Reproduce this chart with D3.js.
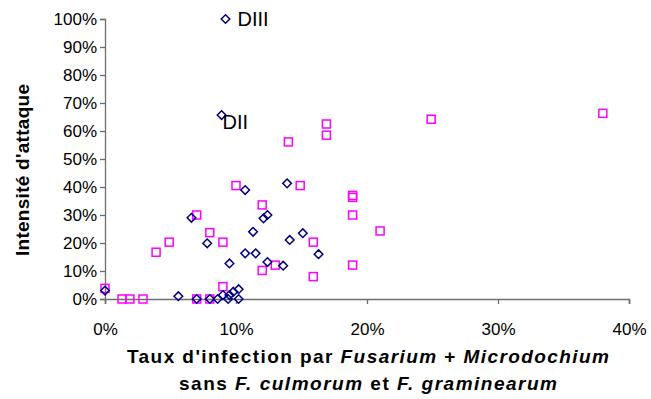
<!DOCTYPE html>
<html>
<head>
<meta charset="utf-8">
<script src="https://cdn.jsdelivr.net/npm/d3@7"></script>
<style>
  body { margin: 0; background: #fff; }
  svg { display: block; font-family: "Liberation Sans", Arial, sans-serif; }
</style>
</head>
<body>
<svg id="chart" width="651" height="399"></svg>
<script>
// Series 1: diamonds (navy) — [x infection rate %, y attack intensity %]
const diamondX = [0.0, 5.6, 7.0, 8.0, 8.6, 9.4, 10.2, 9.0, 9.5, 9.8, 10.2, 6.6, 7.8, 9.5, 10.7, 10.7, 11.5, 11.3, 12.1, 12.4, 12.4, 13.6, 13.9, 14.1, 15.1, 16.3, 8.9, 9.2];
const diamondY = [3.0, 1.0, 0.0, 0.0, 0.0, 0.0, 0.0, 1.4, 1.4, 2.6, 3.5, 29.0, 19.9, 12.7, 38.9, 16.3, 16.3, 24.0, 28.8, 30.0, 13.2, 11.9, 41.3, 21.1, 23.5, 16.0, 65.7, 100.0];
// Series 2: squares (magenta)
const squareX = [0.0, 1.3, 1.9, 2.9, 7.0, 8.0, 9.0, 3.9, 4.9, 7.0, 8.0, 9.0, 10.0, 12.0, 12.0, 13.0, 14.0, 14.9, 15.9, 15.9, 16.9, 16.9, 18.9, 18.9, 18.9, 18.9, 21.0, 24.9, 38.0];
const squareY = [3.8, 0.0, 0.0, 0.0, 0.0, 0.0, 4.4, 16.7, 20.3, 30.0, 23.7, 20.3, 40.5, 33.6, 10.2, 12.1, 56.1, 40.5, 20.3, 8.0, 62.5, 58.5, 37.0, 36.3, 30.0, 12.1, 24.3, 64.2, 66.3];
// Point labels
const labelNames = ["DII", "DIII"];
const labelX = [8.9, 9.2];
const labelY = [65.7, 100.0];
// Ticks
const xTicks = [0, 10, 20, 30, 40];
const yTicks = [0, 10, 20, 30, 40, 50, 60, 70, 80, 90, 100];

const svg = d3.select("#chart");
const x = d3.scaleLinear().domain([0, 40]).range([105, 629]);
const y = d3.scaleLinear().domain([0, 100]).range([299, 19]);
const fmt = d => d + "%";
const axisColor = "#6e6e6e";

// Y axis
const gy = svg.append("g").attr("transform", `translate(${x(0)},0)`)
  .call(d3.axisLeft(y).tickValues(yTicks).tickFormat(fmt).tickSize(5).tickPadding(3));
gy.select(".domain").attr("stroke", axisColor).attr("stroke-width", 1.3);
gy.selectAll(".tick line").attr("stroke", axisColor).attr("stroke-width", 1.3);
gy.selectAll(".tick text").attr("font-size", 17).attr("fill", "#000")
  .attr("font-family", "Liberation Sans, Arial, sans-serif");

// X axis
const gx = svg.append("g").attr("transform", `translate(0,${y(0)})`)
  .call(d3.axisBottom(x).tickValues(xTicks).tickFormat(fmt).tickSize(5).tickPadding(19));
gx.select(".domain").attr("stroke", axisColor).attr("stroke-width", 1.6);
gx.selectAll(".tick line").attr("stroke", axisColor).attr("stroke-width", 1.3);
gx.selectAll(".tick text").attr("font-size", 17).attr("fill", "#000")
  .attr("font-family", "Liberation Sans, Arial, sans-serif");

// Squares
const squares = squareX.map((v, i) => ({x: v, y: squareY[i]}));
const s = 8;
svg.append("g").selectAll("rect").data(squares).join("rect")
  .attr("x", d => x(d.x) - s / 2).attr("y", d => y(d.y) - s / 2)
  .attr("width", s).attr("height", s)
  .attr("fill", "none").attr("stroke", "#ff00ff").attr("stroke-width", 1.5);

// Diamonds
const diamonds = diamondX.map((v, i) => ({x: v, y: diamondY[i]}));
const r = 4.3;
svg.append("g").selectAll("path").data(diamonds).join("path")
  .attr("d", d => {
    const cx = x(d.x), cy = y(d.y);
    return `M${cx},${cy - r}L${cx + r},${cy}L${cx},${cy + r}L${cx - r},${cy}Z`;
  })
  .attr("fill", "none").attr("stroke", "#000080").attr("stroke-width", 1.5);

// Labels
svg.append("g").selectAll("text").data(labelNames).join("text")
  .attr("x", (d, i) => x(labelX[i]) + (i === 0 ? 1 : 12))
  .attr("y", (d, i) => y(labelY[i]) + (i === 0 ? 14 : 7))
  .attr("font-size", 20).attr("fill", "#000")
  .text(d => d);

// Y title
svg.append("text")
  .attr("transform", `translate(29,170) rotate(-90)`)
  .attr("text-anchor", "middle")
  .attr("font-size", 19).attr("font-weight", "bold")
  .attr("textLength", 172).attr("lengthAdjust", "spacing")
  .text("Intensité d'attaque");

// X title
const t1 = svg.append("text").attr("x", 368).attr("y", 363)
  .attr("text-anchor", "middle").attr("font-size", 19).attr("font-weight", "bold")
  .attr("textLength", 482).attr("lengthAdjust", "spacing");
t1.append("tspan").text("Taux d'infection par ");
t1.append("tspan").attr("font-style", "italic").text("Fusarium");
t1.append("tspan").text(" + ");
t1.append("tspan").attr("font-style", "italic").text("Microdochium");

const t2 = svg.append("text").attr("x", 368).attr("y", 390)
  .attr("text-anchor", "middle").attr("font-size", 19).attr("font-weight", "bold")
  .attr("textLength", 378).attr("lengthAdjust", "spacing");
t2.append("tspan").text("sans ");
t2.append("tspan").attr("font-style", "italic").text("F. culmorum");
t2.append("tspan").text(" et ");
t2.append("tspan").attr("font-style", "italic").text("F. graminearum");
</script>
</body>
</html>
